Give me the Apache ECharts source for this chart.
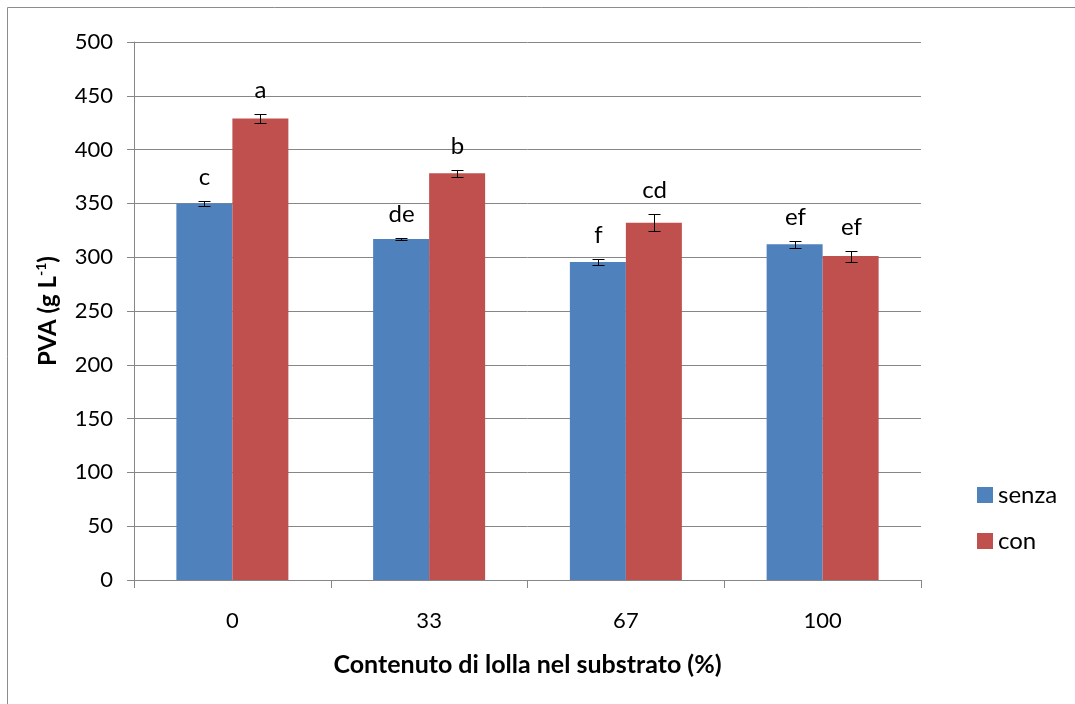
<!DOCTYPE html>
<html>
<head>
<meta charset="utf-8">
<script src="https://cdn.jsdelivr.net/npm/echarts@6/dist/echarts.min.js"></script>
<style>html,body{margin:0;padding:0;background:#fff}#c{width:1075px;height:704px}</style>
</head>
<body>
<div id="c"></div>
<script>
const categories = ['0', '33', '67', '100'];
const seriesNames = ['senza', 'con'];
const senza = [350, 317, 295.5, 312];
const con = [429, 378, 332, 301];
const senzaErr = [2, 1, 2.6, 3];
const conErr = [4, 3, 8, 5];
const senzaLetters = ['c', 'de', 'f', 'ef'];
const conLetters = ['a', 'b', 'cd', 'ef'];
const yTicks = [0, 50, 100, 150, 200, 250, 300, 350, 400, 450, 500];

const FONT = 'Lato';
const BAR_W = 56;

function errSeries(values, errs, letters, offset) {
  return {
    type: 'custom',
    z: 10,
    clip: false,
    silent: true,
    data: values.map((v, i) => [i, v, errs[i]]),
    encode: { x: 0, y: 1 },
    renderItem: function (params, api) {
      const i = api.value(0), v = api.value(1), e = api.value(2);
      const top = api.coord([i, v + e]);
      const bot = api.coord([i, v - e]);
      const x = Math.round(top[0] + offset) + 0.5;
      const t = Math.round(top[1]) + 0.5, b = Math.round(bot[1]) + 0.5;
      const cap = 6;
      const ls = { stroke: '#000', lineWidth: 1 };
      return {
        type: 'group',
        children: [
          { type: 'line', shape: { x1: x, y1: t, x2: x, y2: b }, style: ls },
          { type: 'line', shape: { x1: x - cap, y1: t, x2: x + cap, y2: t }, style: ls },
          { type: 'line', shape: { x1: x - cap, y1: b, x2: x + cap, y2: b }, style: ls },
          { type: 'text', style: { text: letters[params.dataIndex], x: x, y: t - 12,
              textAlign: 'center', textVerticalAlign: 'bottom',
              font: '24px ' + FONT, fill: '#000' } }
        ]
      };
    }
  };
}

const chart = echarts.init(document.getElementById('c'), null, { renderer: 'canvas' });
chart.setOption({
  animation: false,
  textStyle: { fontFamily: FONT, color: '#000' },
  graphic: [{
    type: 'rect', silent: true,
    shape: { x: 7.5, y: 7.5, width: 1300, height: 1300 },
    style: { fill: 'none', stroke: '#8c8c8c', lineWidth: 1 }
  }],
  grid: { left: 134, right: 154, top: 42, bottom: 124, containLabel: false },
  legend: {
    orient: 'vertical', left: 977, top: 483, padding: 0,
    itemWidth: 16, itemHeight: 16, itemGap: 22,
    icon: 'rect',
    data: seriesNames,
    textStyle: { fontFamily: FONT, fontSize: 24, color: '#000' }
  },
  xAxis: {
    type: 'category',
    data: categories,
    name: 'Contenuto di lolla nel substrato (%)',
    nameLocation: 'middle',
    nameGap: 72,
    nameTextStyle: { fontFamily: FONT, fontSize: 25, fontWeight: 'bold', color: '#000' },
    axisLine: { lineStyle: { color: '#868686', width: 1 } },
    axisTick: { show: true, length: 8, interval: 0, lineStyle: { color: '#868686' } },
    axisLabel: { margin: 30, fontSize: 22, color: '#000', fontFamily: FONT }
  },
  yAxis: {
    type: 'value',
    min: 0, max: 500, interval: 50,
    name: '{b|PVA (g L}{s|-1}{b|)}',
    nameLocation: 'middle',
    nameGap: 72,
    nameTextStyle: {
      rich: {
        b: { fontFamily: FONT, fontSize: 24, fontWeight: 'bold', color: '#000', lineHeight: 28 },
        s: { fontFamily: FONT, fontSize: 14, fontWeight: 'bold', color: '#000', lineHeight: 28, verticalAlign: 'top', padding: [0, 0, 9, 0] }
      }
    },
    axisLine: { show: true, lineStyle: { color: '#868686', width: 1 } },
    axisTick: { show: true, length: 7, lineStyle: { color: '#868686' } },
    splitLine: { show: true, lineStyle: { color: '#868686', width: 1 } },
    axisLabel: {
      margin: 21, fontSize: 22, color: '#000', fontFamily: FONT,
      formatter: function (v) { return yTicks.indexOf(v) >= 0 ? String(v) : ''; }
    }
  },
  series: [
    { name: seriesNames[0], type: 'bar', data: senza, barWidth: BAR_W, barGap: '0%',
      itemStyle: { color: '#4F81BD' } },
    { name: seriesNames[1], type: 'bar', data: con, barWidth: BAR_W, barGap: '0%',
      itemStyle: { color: '#C0504D' } },
    errSeries(senza, senzaErr, senzaLetters, -BAR_W / 2),
    errSeries(con, conErr, conLetters, BAR_W / 2)
  ]
});
</script>
</body>
</html>
